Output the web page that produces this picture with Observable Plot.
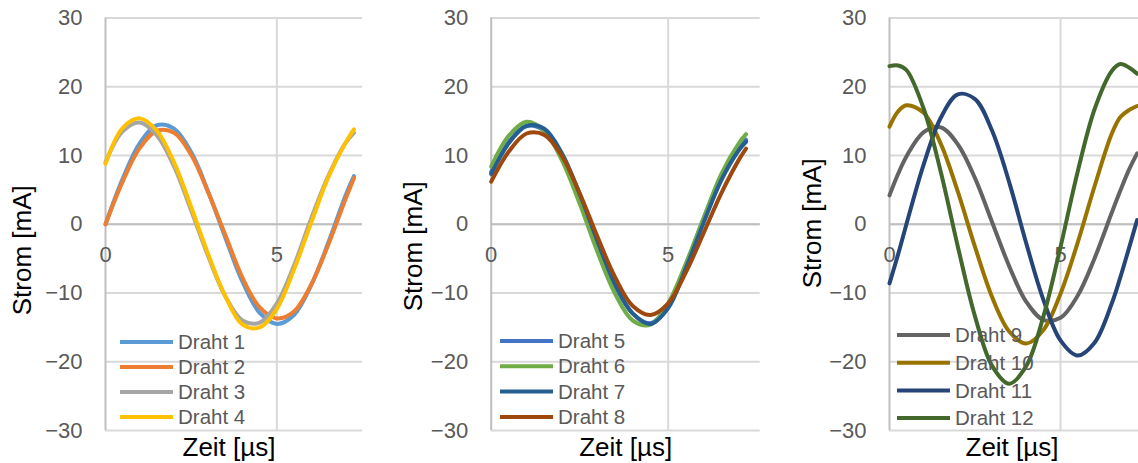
<!DOCTYPE html>
<html>
<head>
<meta charset="utf-8">
<script src="https://cdn.jsdelivr.net/npm/d3@7"></script>
<script src="https://cdn.jsdelivr.net/npm/@observablehq/plot@0.6"></script>
<style>
  html, body { margin: 0; padding: 0; background: #ffffff; }
  #wrap { position: relative; width: 1138px; height: 463px; overflow: hidden; background: #ffffff; }
  #wrap > div { position: absolute; top: 0; }
  #wrap svg { background: transparent !important; max-width: none !important; }
</style>
</head>
<body>
<div id="wrap">
  <div id="p1" style="left:0px"></div>
  <div id="p2" style="left:380px"></div>
  <div id="p3" style="left:760px"></div>
</div>
<script>
// ---- Data ----
const yTicks = [-30, -20, -10, 0, 10, 20, 30];
const xTicks = [0, 5];
const xTitle = "Zeit [µs]";
const yTitle = "Strom [mA]";

// Panel 1
const t1 = [0, 0.5, 1, 1.5, 2, 2.5, 3, 3.5, 4, 4.5, 5, 5.5, 6, 6.5, 7, 7.25];
const names1 = ["Draht 1", "Draht 2", "Draht 3", "Draht 4"];
const colors1 = ["#5b9bd5", "#ed7d31", "#a5a5a5", "#ffc000"];
const draht1 = [0, 6.6, 11.8, 14.4, 13.9, 10.5, 4.7, -2.0, -8.4, -12.9, -14.5, -13.2, -8.9, -2.7, 4.1, 7.0];
const draht2 = [0, 6.2, 11.1, 13.6, 13.3, 10.1, 4.6, -1.6, -7.8, -12.1, -13.7, -12.7, -8.8, -3.0, 3.6, 6.7];
const draht3 = [9.0, 13.5, 14.8, 12.9, 8.4, 2.0, -4.7, -10.5, -14.0, -14.3, -11.5, -6.0, 0.8, 7.0, 11.8, 13.3];
const draht4 = [8.8, 14.0, 15.4, 13.6, 9.0, 2.5, -4.4, -10.5, -14.6, -15.0, -12.3, -6.6, 0.2, 6.8, 11.8, 13.8];

// Panel 2
const t2 = [0, 0.5, 1, 1.5, 2, 2.5, 3, 3.5, 4, 4.5, 5, 5.5, 6, 6.5, 7, 7.2];
const names2 = ["Draht 5", "Draht 6", "Draht 7", "Draht 8"];
const colors2 = ["#4472c4", "#70ad47", "#255e91", "#9e480e"];
const draht5 = [7.6, 12.0, 14.3, 13.6, 9.8, 3.8, -3.0, -9.0, -13.0, -14.4, -11.8, -6.0, 0.8, 6.9, 11.0, 12.3];
const draht6 = [8.4, 12.9, 14.9, 13.6, 9.3, 3.0, -4.0, -10.1, -14.0, -14.6, -11.5, -5.7, 0.9, 7.3, 11.8, 13.1];
const draht7 = [7.3, 11.8, 14.3, 13.9, 10.3, 4.4, -2.4, -8.7, -13.0, -14.5, -12.2, -6.4, 0.2, 6.4, 10.8, 12.0];
const draht8 = [6.2, 10.6, 13.2, 13.0, 9.9, 4.5, -1.8, -7.7, -11.9, -13.2, -11.5, -7.0, -1.3, 4.5, 9.4, 11.0];

// Panel 3
const t3 = [0, 0.25, 0.5, 1, 1.5, 2, 2.5, 3, 3.5, 4, 4.5, 5, 5.5, 6, 6.5, 6.75, 7, 7.24];
const names3 = ["Draht 9", "Draht 10", "Draht 11", "Draht 12"];
const colors3 = ["#636363", "#997300", "#264478", "#43682b"];
const draht9  = [4.2, 7.3, 9.9, 13.4, 14.1, 11.6, 6.7, 0.3, -6.1, -11.3, -13.9, -13.6, -10.4, -4.9, 1.7, 4.9, 7.9, 10.3];
const draht10 = [14.2, 16.4, 17.3, 16.2, 11.7, 4.7, -3.3, -10.6, -15.6, -17.35, -15.4, -10.1, -2.7, 5.6, 13.2, 15.6, 16.6, 17.2];
const draht11 = [-8.6, -4.4, 0.1, 8.7, 15.5, 18.9, 18.2, 13.6, 6.1, -2.8, -11.0, -16.9, -19.1, -17.2, -11.5, -7.7, -3.5, 0.6];
const draht12 = [23.0, 23.1, 22.4, 16.8, 7.6, -3.3, -13.4, -20.6, -23.2, -20.6, -13.4, -3.3, 7.6, 16.8, 22.3, 23.3, 22.8, 21.9];

// ---- Build tables ----
function rows(t, names, seriesList) {
  const out = [];
  seriesList.forEach((vals, i) => vals.forEach((v, j) => out.push({t: t[j], v, series: names[i]})));
  return out;
}

const FONT = "'Liberation Sans', Arial, Helvetica, sans-serif";

function panel(cfg) {
  const data = rows(cfg.t, cfg.names, cfg.series);
  const chart = Plot.plot({
    width: cfg.width,
    height: 463,
    marginLeft: cfg.marginLeft,
    marginRight: cfg.marginRight,
    marginTop: 17.5,
    marginBottom: 33,
    style: {fontFamily: FONT, background: "transparent", overflow: "visible"},
    x: {domain: cfg.xDomain, axis: null},
    y: {domain: [-30, 30]},
    color: {domain: cfg.names, range: cfg.colors},
    marks: [
      Plot.gridY(yTicks, {stroke: "#d9d9d9", strokeOpacity: 1, strokeWidth: 2}),
      Plot.gridX([5], {stroke: "#d9d9d9", strokeOpacity: 1, strokeWidth: 2}),
      Plot.ruleY([0], {stroke: "#bfbfbf", strokeWidth: 2}),
      Plot.ruleX([0], {stroke: "#bfbfbf", strokeWidth: 2}),
      Plot.axisY(yTicks, {tickSize: 0, tickPadding: 23, fontSize: 22, color: "#595959", label: null}),
      Plot.text(xTicks, {x: d => d, y: 0, dy: 31, fontSize: 22, fill: "#595959"}),
      Plot.line(data, {x: "t", y: "v", z: "series", stroke: "series", strokeWidth: 4, curve: "catmull-rom"}),
      Plot.text([xTitle], {frameAnchor: "bottom", dx: cfg.xTitleDx, dy: 17, lineAnchor: "middle", fontSize: 26, fill: "#000000"}),
      Plot.text([yTitle], {frameAnchor: "left", dx: cfg.yTitleDx, dy: cfg.yTitleDy, rotate: -90, textAnchor: "middle", lineAnchor: "middle", fontSize: 26, fill: "#000000"})
    ]
  });
  // Legend inside the plot area (bottom-left)
  const svg = d3.select(chart);
  const g = svg.append("g").attr("text-anchor", "start");
  cfg.names.forEach((name, i) => {
    const y = cfg.legY + i * cfg.legStep;
    g.append("line")
      .attr("x1", cfg.legX).attr("x2", cfg.legX + 53)
      .attr("y1", y).attr("y2", y)
      .attr("stroke", cfg.colors[i]).attr("stroke-width", 4);
    g.append("text")
      .attr("x", cfg.legX + 58).attr("y", y)
      .attr("dy", "0.35em")
      .attr("text-anchor", "start")
      .attr("fill", "#595959")
      .attr("font-size", 20.5)
      .attr("font-family", FONT)
      .text(name);
  });
  document.getElementById(cfg.id).appendChild(chart);
}

panel({id: "p1", width: 380, marginLeft: 105, marginRight: 18, xDomain: [0, 7.5],
  t: t1, names: names1, colors: colors1, series: [draht1, draht2, draht3, draht4],
  xTitleDx: -5, yTitleDx: -83, yTitleDy: 26, legX: 120, legY: 342, legStep: 25});

panel({id: "p2", width: 380, marginLeft: 110.7, marginRight: 0.3, xDomain: [0, 7.6],
  t: t2, names: names2, colors: colors2, series: [draht5, draht6, draht7, draht8],
  xTitleDx: 0, yTitleDx: -77.7, yTitleDy: 22, legX: 120, legY: 341, legStep: 25.3});

panel({id: "p3", width: 378, marginLeft: 129, marginRight: 0, xDomain: [0, 7.28],
  t: t3, names: names3, colors: colors3, series: [draht9, draht10, draht11, draht12],
  xTitleDx: -2, yTitleDx: -77.3, yTitleDy: -1, legX: 137, legY: 335, legStep: 27.7});
</script>
</body>
</html>
